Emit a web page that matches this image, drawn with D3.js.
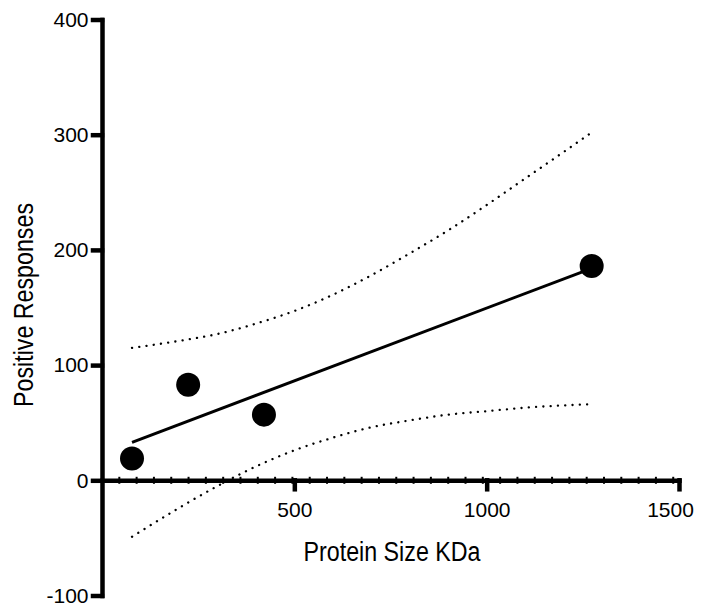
<!DOCTYPE html>
<html>
<head>
<meta charset="utf-8">
<script src="https://cdn.jsdelivr.net/npm/d3@7"></script>
<style>
  body { margin: 0; background: #fff; }
  svg { display: block; font-family: "Liberation Sans", Arial, sans-serif; }
  .axis path, .axis line { stroke: #000; stroke-width: 4.5; stroke-linecap: square; }
  .axis text { font-size: 21px; fill: #000; }
</style>
</head>
<body>
<script>
// points
var proteinSize = [78, 224, 421, 1273];
var responses = [19, 83, 57, 186];

// regression line ends
var fitX = [78, 1273];
var fitY = [33, 184];

// 95% band, read at a few x positions
var bandX = [78, 200, 300, 400, 500, 600, 700, 800, 900, 1000, 1100, 1200, 1273];
var bandUpper = [115, 121, 127, 136, 147, 161, 178, 197, 217, 239, 262, 285, 302];
var bandLower = [-49, -24, -5, 12, 26, 37, 46, 52, 57, 60, 63, 65, 66];

var yTicks = [-100, 0, 100, 200, 300, 400];
var xTicks = [500, 1000, 1500];
var xMinorStep = 45;

var width = 701, height = 607;

var x = d3.scaleLinear().domain([0, 1500]).range([102, 679]);
var y = d3.scaleLinear().domain([-100, 400]).range([595.5, 19.5]);

var svg = d3.select('body').append('svg')
    .attr('width', width)
    .attr('height', height);

// minor ticks along the x axis
svg.append('g')
    .selectAll('line')
    .data(d3.range(xMinorStep, 1500, xMinorStep))
    .enter()
    .append('line')
    .attr('x1', function(d) { return x(d); })
    .attr('x2', function(d) { return x(d); })
    .attr('y1', y(0) - 3.5)
    .attr('y2', y(0) + 3.5)
    .attr('stroke', '#000')
    .attr('stroke-width', 2);

var xAxis = svg.append('g')
    .attr('class', 'axis')
    .attr('transform', 'translate(0,' + y(0) + ')')
    .call(d3.axisBottom(x).tickValues(xTicks).tickFormat(String)
        .tickSize(9).tickSizeOuter(0).tickPadding(12.5));

// last label sits a little inside the edge
xAxis.selectAll('text')
    .attr('dx', function(d) { return d === 1500 ? -9 : 0; });

svg.append('g')
    .attr('class', 'axis')
    .attr('transform', 'translate(' + x(0) + ',0)')
    .call(d3.axisLeft(y).tickValues(yTicks).tickFormat(String)
        .tickSize(9).tickSizeOuter(0).tickPadding(4.5));

svg.selectAll('.axis').attr('font-family', null).attr('font-size', null);

// confidence band
var line = d3.line()
    .x(function(d) { return x(d[0]); })
    .y(function(d) { return y(d[1]); })
    .curve(d3.curveMonotoneX);

[bandUpper, bandLower].forEach(function(vals) {
  svg.append('path')
      .datum(d3.zip(bandX, vals))
      .attr('d', line)
      .attr('fill', 'none')
      .attr('stroke', '#000')
      .attr('stroke-width', 2.3)
      .attr('stroke-linecap', 'round')
      .attr('stroke-dasharray', '0.1 7.2');
});

// fit line
svg.append('path')
    .datum(d3.zip(fitX, fitY))
    .attr('d', line)
    .attr('fill', 'none')
    .attr('stroke', '#000')
    .attr('stroke-width', 3);

svg.append('g')
    .selectAll('circle')
    .data(d3.zip(proteinSize, responses))
    .enter()
    .append('circle')
    .attr('cx', function(d) { return x(d[0]); })
    .attr('cy', function(d) { return y(d[1]); })
    .attr('r', 12)
    .attr('fill', '#000');

svg.append('text')
    .attr('transform', 'translate(392,561) scale(0.83,1)')
    .attr('text-anchor', 'middle')
    .attr('font-size', 28)
    .text('Protein Size KDa');

svg.append('text')
    .attr('transform', 'translate(33,305) rotate(-90) scale(0.83,1)')
    .attr('text-anchor', 'middle')
    .attr('font-size', 28)
    .text('Positive Responses');
</script>
</body>
</html>
